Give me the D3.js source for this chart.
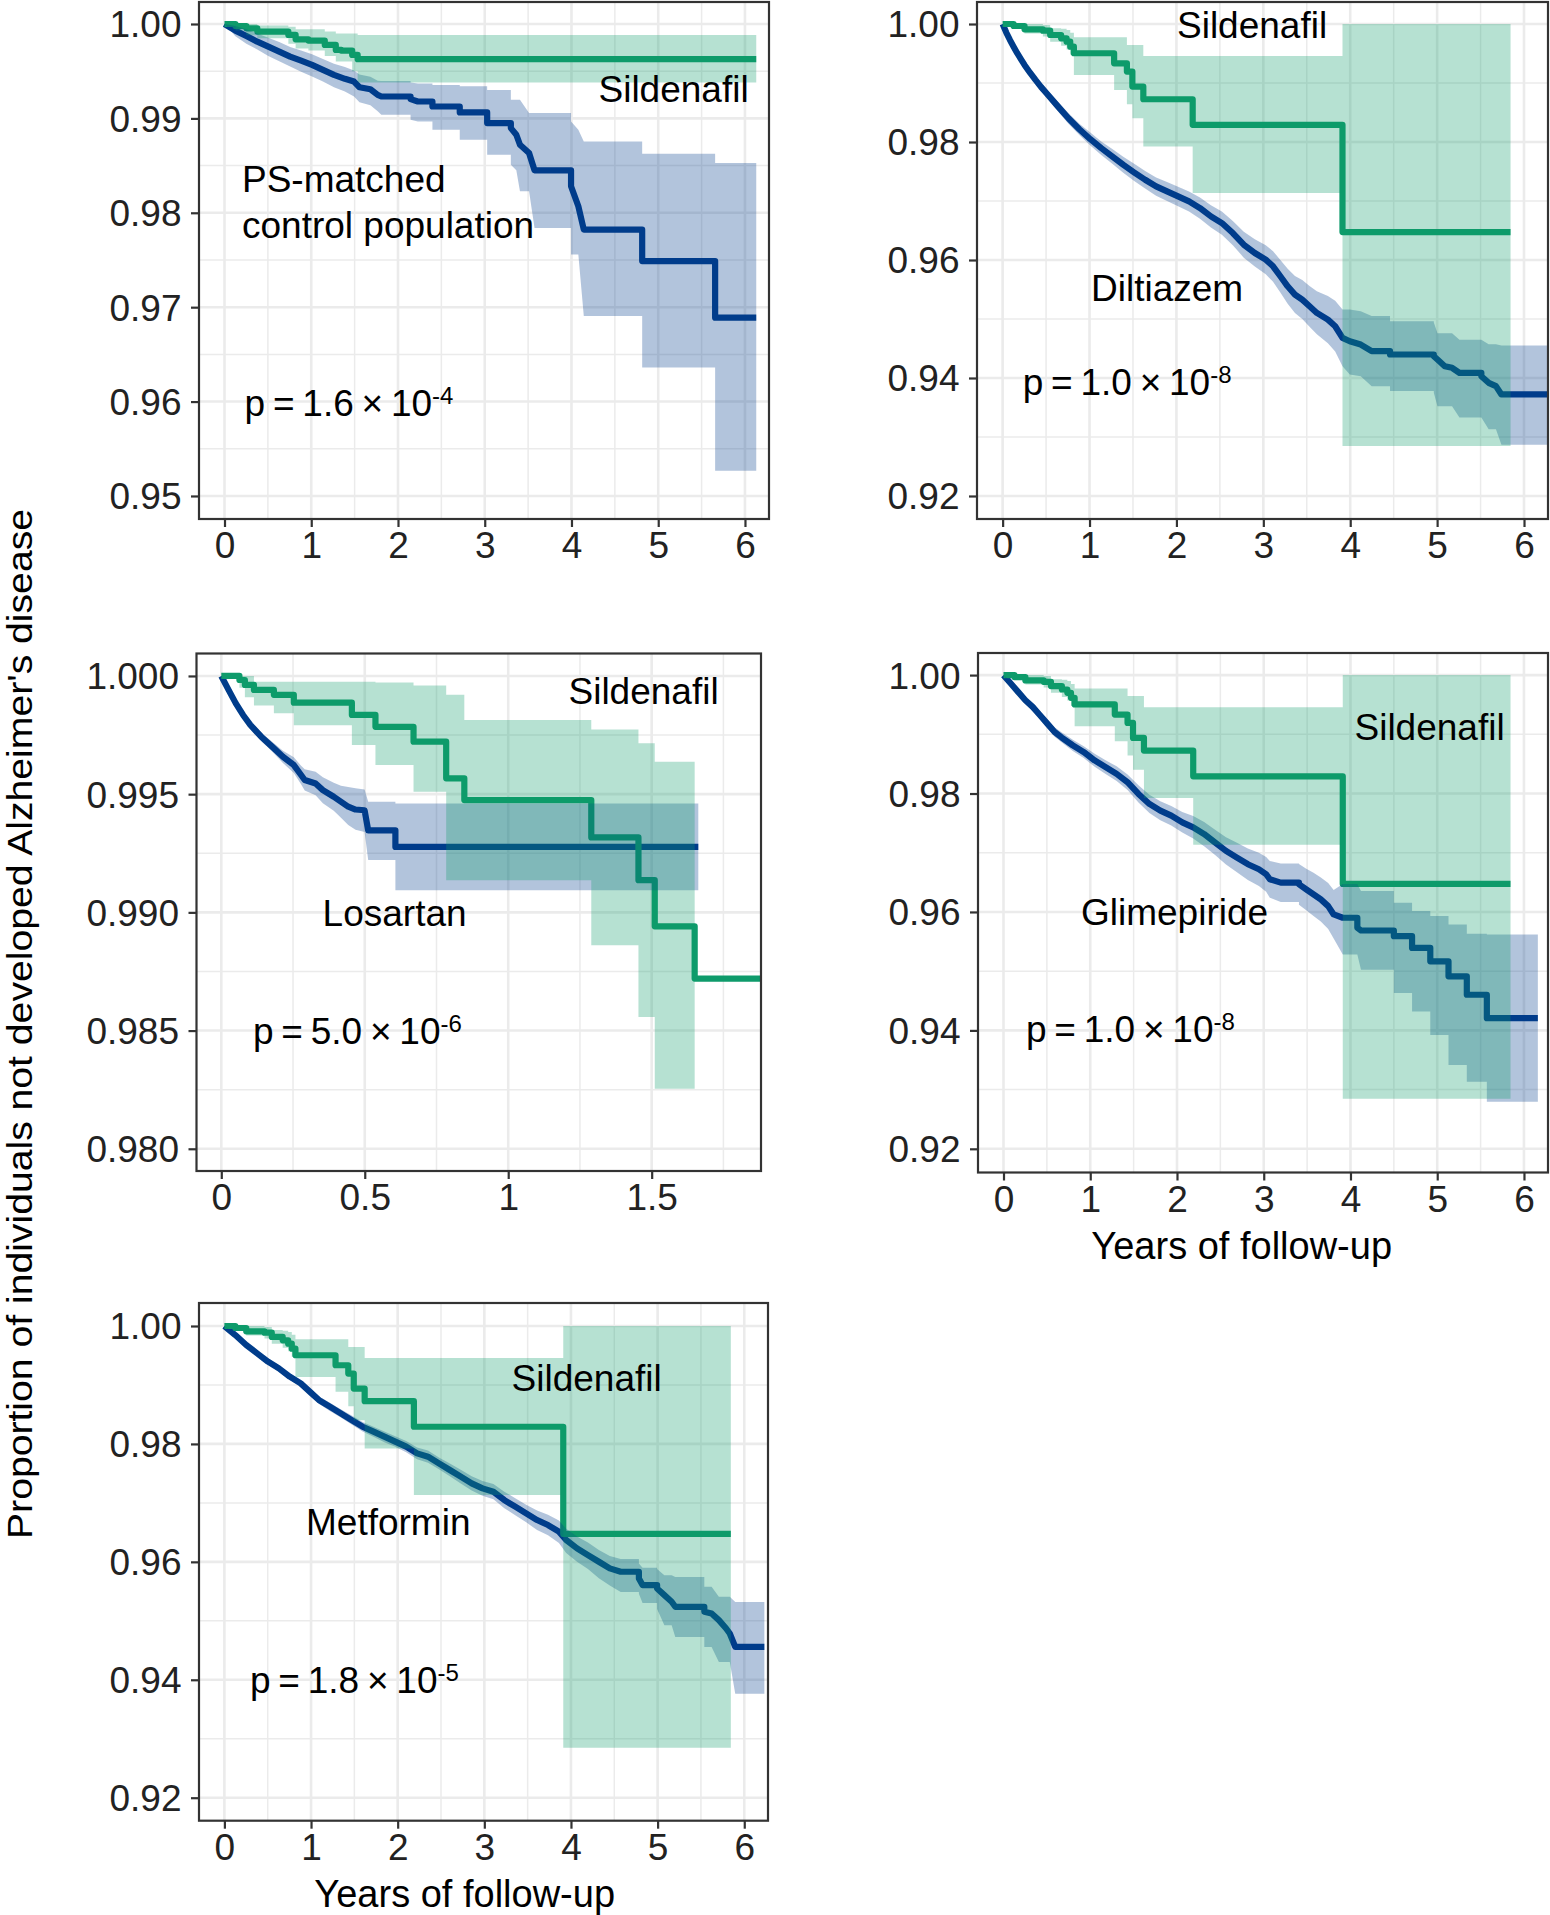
<!DOCTYPE html>
<html><head><meta charset="utf-8">
<script src="https://cdn.jsdelivr.net/npm/d3@7"></script>
<style>
html,body{margin:0;padding:0;background:#fff;}
svg{display:block;font-family:"Liberation Sans",Arial,Helvetica,sans-serif;}
</style></head><body>
<svg id="chart" width="1550" height="1915"></svg>
<script>
// ---------------- DATA: rows are [time (years), survival, lower CI, upper CI] ----------------
const psSildenafil = [
  [0,1,1,1],[0.126,0.99979,0.9993,1],[0.252,0.99954,0.9988,1],[0.378,0.9992,0.99848,0.99985],
  [0.736,0.99884,0.9979,0.9997],[0.82,0.99838,0.9974,0.99944],[0.967,0.99824,0.9972,0.99944],
  [1.156,0.99778,0.9966,0.9992],[1.283,0.99725,0.99602,0.999],[1.346,0.99718,0.99602,0.999],
  [1.472,0.99672,0.995,0.999],[1.535,0.99627,0.9938,0.99884],[6.13,0.99627,0.9938,0.99884]
];
const psControl = [
  [0,1,1,1],[0.126,0.9993,0.9987,0.9998],[0.252,0.99873,0.9979,0.99945],[0.378,0.99813,0.9973,0.999],
  [0.505,0.9976,0.9966,0.99855],[0.631,0.99708,0.99605,0.9981],[0.757,0.99655,0.9955,0.99755],
  [0.883,0.99612,0.99495,0.9972],[1.009,0.99567,0.99445,0.9968],[1.135,0.99514,0.9939,0.9963],
  [1.262,0.99461,0.9933,0.9958],[1.388,0.99419,0.99285,0.99545],[1.493,0.9939,0.99232,0.99507],
  [1.556,0.9933,0.9917,0.99465],[1.682,0.99309,0.9914,0.9944],[1.766,0.99249,0.99075,0.994],
  [1.808,0.99232,0.99038,0.99395],[2.145,0.99204,0.98985,0.9938],[2.229,0.99179,0.98968,0.9937],
  [2.397,0.99126,0.98879,0.99355],[2.712,0.99063,0.98774,0.9934],[3.028,0.9895,0.98615,0.99302],
  [3.301,0.98897,0.9851,0.99197],[3.364,0.98827,0.9845,0.99197],[3.406,0.98721,0.98228,0.99197],
  [3.511,0.98633,0.98228,0.99056],[3.574,0.9845,0.9784,0.99056],[3.995,0.98281,0.97558,0.98968],
  [4.079,0.98069,0.97558,0.98879],[4.142,0.97822,0.96906,0.98756],[4.815,0.97488,0.9636,0.98626],
  [5.656,0.96889,0.95268,0.98527],[6.13,0.96889,0.95268,0.98527]
];
// Sildenafil cohort used against Diltiazem, Glimepiride and Metformin
const sildenafilCohort = [
  [0,1,1,1],[0.126,0.99966,0.9993,1],[0.252,0.9991,0.9984,1],[0.463,0.99887,0.9979,0.99985],
  [0.547,0.99814,0.997,0.9993],[0.673,0.99757,0.9963,0.9992],[0.736,0.99701,0.9957,0.999],
  [0.778,0.99616,0.9948,0.9985],[0.82,0.99504,0.99137,0.99774],[1.283,0.99334,0.98883,0.99774],
  [1.43,0.99193,0.9864,0.99645],[1.493,0.98939,0.98403,0.99645],[1.619,0.98725,0.97924,0.99458],
  [2.187,0.98291,0.97134,0.99458],[3.911,0.96474,0.92846,1.0],[5.845,0.96474,0.92846,1.0]
];
const diltiazem = [
  [0,1,1,1],[0.042,0.99855,0.9983,0.9988],[0.084,0.9973,0.997,0.9976],[0.126,0.99616,0.9958,0.9965],
  [0.168,0.99505,0.9947,0.9954],[0.21,0.99405,0.9937,0.9944],[0.252,0.99306,0.9926,0.9935],
  [0.315,0.99175,0.9912,0.9923],[0.378,0.99052,0.9899,0.9911],[0.441,0.98935,0.9887,0.99],
  [0.505,0.98827,0.9876,0.989],[0.631,0.98612,0.9853,0.9869],[0.757,0.98403,0.9831,0.9849],
  [0.883,0.98217,0.9812,0.9831],[1.009,0.98048,0.9794,0.9816],[1.135,0.97896,0.9778,0.9801],
  [1.262,0.97755,0.9763,0.9788],[1.388,0.97614,0.9748,0.9775],[1.514,0.97484,0.9734,0.9763],
  [1.64,0.9736,0.9721,0.9751],[1.766,0.97247,0.9709,0.974],[1.892,0.97162,0.97,0.9732],
  [2.019,0.97078,0.9691,0.9724],[2.145,0.96993,0.9682,0.9716],[2.271,0.9688,0.967,0.9706],
  [2.397,0.96739,0.9655,0.9693],[2.523,0.96626,0.9643,0.9682],[2.649,0.96457,0.9625,0.9666],
  [2.775,0.9626,0.9604,0.9648],[2.902,0.96119,0.9589,0.9635],[3.028,0.96006,0.9576,0.9625],
  [3.112,0.95893,0.9563,0.9615],[3.196,0.95724,0.9545,0.96],[3.28,0.95554,0.9526,0.9585],
  [3.364,0.95413,0.951,0.9573],[3.448,0.95329,0.95,0.9566],[3.532,0.95216,0.9487,0.9556],
  [3.616,0.95103,0.9474,0.9547],[3.743,0.9499,0.9459,0.9539],[3.827,0.94877,0.9445,0.9531],
  [3.911,0.9468,0.942,0.9516],[3.995,0.94623,0.9406,0.9516],[4.121,0.94567,0.9403,0.9513],
  [4.247,0.94454,0.9386,0.9505],[4.458,0.94398,0.9378,0.9496],[4.962,0.9437,0.9375,0.9494],
  [5.004,0.94313,0.9352,0.9476],[5.088,0.942,0.9352,0.9476],[5.172,0.94172,0.9352,0.9476],
  [5.257,0.94087,0.9333,0.9465],[5.509,0.94031,0.9333,0.9465],[5.593,0.93918,0.9313,0.9457],
  [5.677,0.93862,0.9313,0.9457],[5.74,0.93721,0.9287,0.9455],[6.3,0.93721,0.9287,0.9455]
];
const losartanSildenafil = [
  [0,1,1,1],[0.0632,0.99983,0.9995,1],[0.0822,0.99962,0.9991,1],[0.1138,0.99941,0.99875,0.99976],
  [0.1833,0.9992,0.99842,0.99976],[0.2528,0.99887,0.99792,0.99976],[0.4551,0.99835,0.99708,0.99976],
  [0.5373,0.99785,0.99623,0.99972],[0.67,0.99722,0.9951,0.9996],[0.7838,0.99567,0.99136,0.9992],
  [0.847,0.99475,0.99136,0.99814],[1.2895,0.99317,0.98861,0.99774],[1.4539,0.99136,0.98557,0.99715],
  [1.5107,0.98941,0.98254,0.99637],[1.6498,0.9872,0.98254,0.99637],[1.884,0.9872,null,null]
];
const losartan = [
  [0,1,1,1],[0.0253,0.99941,0.99935,0.99947],[0.0506,0.99884,0.99875,0.99893],[0.0759,0.99835,0.99823,0.99847],
  [0.1011,0.99793,0.99778,0.99808],[0.1391,0.99743,0.99725,0.99761],[0.177,0.99701,0.9968,0.99722],
  [0.2149,0.99658,0.99632,0.99684],[0.2528,0.99623,0.9959,0.99656],[0.2781,0.99581,0.99542,0.9962],
  [0.2908,0.9956,0.99515,0.99605],[0.3287,0.99545,0.99495,0.99595],[0.354,0.99517,0.99462,0.99572],
  [0.3919,0.99489,0.9943,0.99548],[0.4172,0.99468,0.994,0.99536],[0.4425,0.99447,0.9937,0.9953],
  [0.4678,0.99435,0.9935,0.99525],[0.4994,0.99432,0.9934,0.9952],[0.512,0.99347,0.99221,0.99468],
  [0.6068,0.99277,0.99094,0.99461],[1.6625,0.99277,0.99094,0.99461]
];
const glimepiride = [
  [0,1,1,1],[0.084,0.99859,0.9983,0.9989],[0.168,0.99717,0.9968,0.9976],[0.252,0.99576,0.9953,0.9962],
  [0.336,0.99463,0.9941,0.9952],[0.421,0.99322,0.9926,0.9938],[0.505,0.9918,0.9911,0.9925],
  [0.589,0.99039,0.9896,0.9912],[0.673,0.98943,0.9886,0.9903],[0.799,0.98813,0.9872,0.9891],
  [0.925,0.987,0.986,0.988],[1.051,0.98559,0.9845,0.9867],[1.177,0.98446,0.9833,0.9856],
  [1.304,0.98332,0.9821,0.9846],[1.43,0.98191,0.9806,0.9832],[1.556,0.97993,0.9785,0.9814],
  [1.682,0.97824,0.9767,0.9798],[1.808,0.97711,0.9755,0.9787],[1.934,0.97626,0.9746,0.9779],
  [2.061,0.97513,0.9734,0.9769],[2.187,0.97428,0.9724,0.9762],[2.313,0.97315,0.9711,0.9752],
  [2.439,0.97174,0.9696,0.9739],[2.565,0.97032,0.968,0.9726],[2.691,0.96919,0.9667,0.9717],
  [2.817,0.96806,0.9654,0.9707],[2.944,0.96721,0.9644,0.97],[3.028,0.96637,0.9634,0.9693],
  [3.07,0.96552,0.9624,0.9686],[3.196,0.96495,0.9617,0.9682],[3.406,0.96467,0.9612,0.9681],
  [3.49,0.96382,0.9603,0.9673],[3.574,0.96297,0.9593,0.9666],[3.658,0.96212,0.9584,0.9658],
  [3.743,0.96099,0.9571,0.9649],[3.806,0.95958,0.9555,0.9637],[3.911,0.95902,0.9528,0.9647],
  [4.079,0.95732,0.9528,0.9647],[4.121,0.95687,0.95025,0.96354],[4.5,0.95591,0.9463,0.96156],
  [4.71,0.95393,0.94319,0.96015],[4.92,0.95167,0.93923,0.9593],[5.13,0.94913,0.93414,0.95789],
  [5.341,0.94602,0.93132,0.9563],[5.572,0.94206,0.92793,0.95619],[6.16,0.94206,0.92793,0.95619]
];
const metformin = [
  [0,1,1,1],[0.126,0.99847,0.9983,0.9986],[0.252,0.99677,0.9965,0.997],[0.378,0.99536,0.995,0.9957],
  [0.504,0.99395,0.9935,0.9944],[0.629,0.99281,0.9923,0.9933],[0.755,0.9914,0.9909,0.9919],
  [0.881,0.99027,0.9897,0.9908],[1.007,0.98857,0.988,0.9892],[1.091,0.98744,0.9868,0.9881],
  [1.217,0.98631,0.9856,0.987],[1.343,0.98518,0.9845,0.9859],[1.469,0.98405,0.9833,0.9848],
  [1.595,0.98292,0.9821,0.9837],[1.721,0.98208,0.9812,0.9829],[1.846,0.98123,0.9803,0.9821],
  [1.972,0.98038,0.9795,0.9813],[2.098,0.97954,0.9786,0.9805],[2.224,0.9784,0.9774,0.9794],
  [2.35,0.97784,0.9768,0.9789],[2.476,0.97671,0.9757,0.9777],[2.602,0.97558,0.9745,0.9767],
  [2.728,0.97444,0.9733,0.9756],[2.854,0.97331,0.9721,0.9745],[2.979,0.97246,0.9712,0.9737],
  [3.105,0.9719,0.9706,0.9732],[3.231,0.97048,0.9691,0.9719],[3.357,0.96935,0.9679,0.9708],
  [3.483,0.96822,0.9667,0.9697],[3.609,0.96709,0.9654,0.9687],[3.735,0.96624,0.9645,0.968],
  [3.861,0.96511,0.9632,0.967],[3.945,0.9637,0.9615,0.9656],[4.07,0.96228,0.96,0.9643],
  [4.196,0.96115,0.9588,0.9633],[4.322,0.96002,0.9572,0.962],[4.448,0.95889,0.956,0.961],
  [4.574,0.95832,0.9549,0.9605],[4.784,0.95719,0.9546,0.9597],[4.826,0.95606,0.953,0.959],
  [4.994,0.95549,0.952,0.9588],[5.078,0.95436,0.94925,0.95774],[5.162,0.95323,0.94925,0.95774],
  [5.204,0.95238,0.94727,0.95745],[5.539,0.95153,0.94557,0.95576],[5.623,0.95124,0.94557,0.95576],
  [5.707,0.95012,0.94303,0.95406],[5.791,0.9487,0.94303,0.95406],[5.833,0.94785,0.94303,0.95406],
  [5.896,0.94559,0.93765,0.95321],[6.232,0.94559,0.93765,0.95321]
];

// tick values and labels
const yearTicks = [0,1,2,3,4,5,6];
const yearTickLabels = ["0","1","2","3","4","5","6"];
const yearMinor = [0.5,1.5,2.5,3.5,4.5,5.5];
const losartanXTicks = [0,0.5,1,1.5];
const losartanXTickLabels = ["0","0.5","1","1.5"];
const losartanXMinor = [0.25,0.75,1.25,1.75];
const psYTicks = [0.95,0.96,0.97,0.98,0.99,1.00];
const psYTickLabels = ["0.95","0.96","0.97","0.98","0.99","1.00"];
const psYMinor = [0.955,0.965,0.975,0.985,0.995];
const wideYTicks = [0.92,0.94,0.96,0.98,1.00];
const wideYTickLabels = ["0.92","0.94","0.96","0.98","1.00"];
const wideYMinor = [0.93,0.95,0.97,0.99];
const losartanYTicks = [0.980,0.985,0.990,0.995,1.000];
const losartanYTickLabels = ["0.980","0.985","0.990","0.995","1.000"];
const losartanYMinor = [0.9825,0.9875,0.9925,0.9975];

// texts
const comparatorNames = ["PS-matched\ncontrol population","Diltiazem","Losartan","Glimepiride","Metformin"];
const treatedName = "Sildenafil";
const pValues = [["1.6","-4"],["1.0","-8"],["5.0","-6"],["1.0","-8"],["1.8","-5"]];
const xAxisTitle = "Years of follow-up";
const yAxisTitle = "Proportion of individuals not developed Alzheimer's disease";

// ---------------- LAYOUT ----------------
const COL_CTRL = "#003d8b", COL_SILD = "#0e9b6b";
const FS = 37, LW = 6.2;
const panels = [
  {ctrl: psControl, sild: psSildenafil, px:[199,769], py:[2,519], xd:[-0.294,6.277], yd:[0.94756,1.00233],
   xt: yearTicks, xl: yearTickLabels, xm: yearMinor, yt: psYTicks, yl: psYTickLabels, ym: psYMinor,
   sildPos:[598.5,101.5], ctrlPos:[242,192.4], pPos:[244.6,415.5], name:0},
  {ctrl: diltiazem, sild: sildenafilCohort, px:[977,1548], py:[2,519], xd:[-0.295,6.276], yd:[0.9161,1.00373],
   xt: yearTicks, xl: yearTickLabels, xm: yearMinor, yt: wideYTicks, yl: wideYTickLabels, ym: wideYMinor,
   sildPos:[1177,38.3], ctrlPos:[1091,301], pPos:[1022.7,394.5], name:1},
  {ctrl: losartan, sild: losartanSildenafil, px:[196.5,761], py:[653.5,1171], xd:[-0.0864,1.881], yd:[0.97906,1.00095],
   xt: losartanXTicks, xl: losartanXTickLabels, xm: losartanXMinor, yt: losartanYTicks, yl: losartanYTickLabels, ym: losartanYMinor,
   sildPos:[568.5,704], ctrlPos:[322.6,926], pPos:[253,1043.6], name:2},
  {ctrl: glimepiride, sild: sildenafilCohort, px:[978,1548], py:[653,1172.5], xd:[-0.294,6.277], yd:[0.916,1.00373],
   xt: yearTicks, xl: yearTickLabels, xm: yearMinor, yt: wideYTicks, yl: wideYTickLabels, ym: wideYMinor,
   sildPos:[1354.5,739.7], ctrlPos:[1081,924.5], pPos:[1026,1041.7], name:3, xTitle:[1241.7,1259]},
  {ctrl: metformin, sild: sildenafilCohort, px:[199,768], py:[1303,1820.7], xd:[-0.293,6.274], yd:[0.9161,1.0039],
   xt: yearTicks, xl: yearTickLabels, xm: yearMinor, yt: wideYTicks, yl: wideYTickLabels, ym: wideYMinor,
   sildPos:[511.6,1390.7], ctrlPos:[306,1535], pPos:[250,1693], name:4, xTitle:[464.7,1906.5]}
];

// Densely-stepped control curves: events closer than `gapPx` on screen render as a continuous
// path, widely spaced events keep the Kaplan-Meier step shape.
function denseSteps(rows, x, gapPx) {
  const out = [];
  rows.forEach((r, i) => {
    if (i > 0 && x(r[0]) - x(rows[i-1][0]) > gapPx) out.push([r[0], rows[i-1][1], rows[i-1][2], rows[i-1][3]]);
    out.push(r);
  });
  return out;
}

const svg = d3.select("#chart");
const defs = svg.append("defs");

panels.forEach((p, i) => {
  const x = d3.scaleLinear().domain(p.xd).range(p.px);
  const y = d3.scaleLinear().domain(p.yd).range([p.py[1], p.py[0]]);
  const g = svg.append("g");
  const W = p.px[1]-p.px[0], H = p.py[1]-p.py[0];

  defs.append("clipPath").attr("id","clip"+i).append("rect")
    .attr("x",p.px[0]).attr("y",p.py[0]).attr("width",W).attr("height",H);

  // grid
  const grid = g.append("g");
  grid.selectAll(".yminor").data(p.ym).join("line")
    .attr("x1",p.px[0]).attr("x2",p.px[1]).attr("y1",d=>y(d)).attr("y2",d=>y(d))
    .attr("stroke","#ebebeb").attr("stroke-width",1.5);
  grid.selectAll(".xminor").data(p.xm.filter(v=>v>p.xd[0]&&v<p.xd[1])).join("line")
    .attr("y1",p.py[0]).attr("y2",p.py[1]).attr("x1",d=>x(d)).attr("x2",d=>x(d))
    .attr("stroke","#ebebeb").attr("stroke-width",1.5);
  grid.selectAll(".ymajor").data(p.yt).join("line")
    .attr("x1",p.px[0]).attr("x2",p.px[1]).attr("y1",d=>y(d)).attr("y2",d=>y(d))
    .attr("stroke","#ebebeb").attr("stroke-width",2.6);
  grid.selectAll(".xmajor").data(p.xt).join("line")
    .attr("y1",p.py[0]).attr("y2",p.py[1]).attr("x1",d=>x(d)).attr("x2",d=>x(d))
    .attr("stroke","#ebebeb").attr("stroke-width",2.6);

  const plot = g.append("g").attr("clip-path",`url(#clip${i})`);
  const stepLine = d3.line().curve(d3.curveStepAfter).x(d=>x(d[0])).y(d=>y(d[1]));
  const stepArea = d3.area().curve(d3.curveStepAfter).defined(d=>d[2]!=null)
    .x(d=>x(d[0])).y0(d=>y(d[2])).y1(d=>y(d[3]));
  const denseLine = d3.line().x(d=>x(d[0])).y(d=>y(d[1]));
  const denseArea = d3.area().x(d=>x(d[0])).y0(d=>y(d[2])).y1(d=>y(d[3]));
  const ctrlRows = denseSteps(p.ctrl, x, 12);

  plot.append("path").attr("d",denseLine(ctrlRows)).attr("fill","none").attr("stroke",COL_CTRL)
    .attr("stroke-width",LW).attr("stroke-linejoin","round");
  plot.append("path").attr("d",stepLine(p.sild)).attr("fill","none").attr("stroke",COL_SILD)
    .attr("stroke-width",LW).attr("stroke-linejoin","round");
  plot.append("path").attr("d",denseArea(ctrlRows)).attr("fill",COL_CTRL).attr("fill-opacity",0.3);
  plot.append("path").attr("d",stepArea(p.sild)).attr("fill",COL_SILD).attr("fill-opacity",0.3);

  // border
  g.append("rect").attr("x",p.px[0]).attr("y",p.py[0]).attr("width",W).attr("height",H)
    .attr("fill","none").attr("stroke","#333333").attr("stroke-width",2.2);

  // axes
  const xa = g.append("g").attr("transform",`translate(0,${p.py[1]})`)
    .call(d3.axisBottom(x).tickValues(p.xt).tickFormat((d,k)=>p.xl[k]).tickSize(8).tickPadding(5));
  const ya = g.append("g").attr("transform",`translate(${p.px[0]},0)`)
    .call(d3.axisLeft(y).tickValues(p.yt).tickFormat((d,k)=>p.yl[k]).tickSize(8).tickPadding(9.5));
  [xa,ya].forEach(a=>{
    a.attr("font-family",null).attr("font-size",null);
    a.select(".domain").remove();
    a.selectAll(".tick line").attr("stroke","#333333").attr("stroke-width",2.2);
    a.selectAll(".tick text").attr("fill","#222").attr("font-size",FS);
  });
  ya.selectAll(".tick text").attr("dy","0.35em");

  // annotations
  g.append("text").attr("x",p.sildPos[0]).attr("y",p.sildPos[1]).attr("font-size",FS).attr("fill","#000").text(treatedName);
  const lines = comparatorNames[p.name].split("\n");
  lines.forEach((t,k)=>{
    g.append("text").attr("x",p.ctrlPos[0]).attr("y",p.ctrlPos[1]+k*45.6).attr("font-size",FS).attr("fill","#000").text(t);
  });
  const pt = g.append("text").attr("x",p.pPos[0]).attr("y",p.pPos[1]).attr("font-size",FS).attr("fill","#000")
    .attr("word-spacing","-2.5px");
  pt.append("tspan").text(`p = ${pValues[p.name][0]} \u00d7 10`);
  pt.append("tspan").attr("font-size",24).attr("dy",-12).text(pValues[p.name][1]);

  if (p.xTitle) {
    g.append("text").attr("x",p.xTitle[0]).attr("y",p.xTitle[1]).attr("text-anchor","middle")
      .attr("font-size",38).attr("fill","#000").text(xAxisTitle);
  }
});

svg.append("text").attr("transform","translate(32,1024) rotate(-90)").attr("text-anchor","middle")
  .attr("font-size",35).attr("textLength",1030).attr("lengthAdjust","spacingAndGlyphs")
  .attr("fill","#000").text(yAxisTitle);
</script>
</body></html>
